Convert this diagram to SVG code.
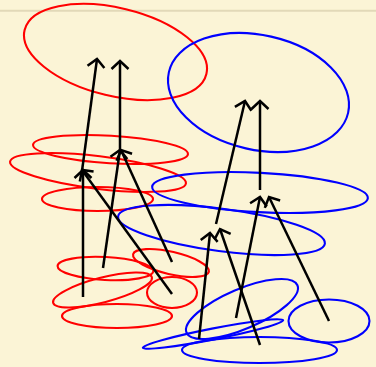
<svg xmlns="http://www.w3.org/2000/svg" width="376" height="367" viewBox="0 0 376 367">
<defs>
<style>
.r{fill:none;stroke:#ff0000;stroke-width:2.1}
.b{fill:none;stroke:#0000ff;stroke-width:2.1}
.c{fill:none;stroke:#000;stroke-width:2.5}
</style>
<marker id="ah" markerUnits="userSpaceOnUse" orient="auto" markerWidth="20" markerHeight="20" refX="0" refY="0" viewBox="-10 -10 20 20" overflow="visible">
<path d="M-8,-8.5 L0,0 L-8,8.5" fill="none" stroke="#000" stroke-width="2.5"/>
</marker>
</defs>
<rect width="376" height="367" fill="#fbf4d6"/>
<line x1="0" y1="10.7" x2="376" y2="10.7" stroke="#e2d9b8" stroke-width="2"/>
<g id="r1"><ellipse class="r" cx="115.5" cy="52" rx="93.5" ry="44" transform="rotate(13.6 115.5 52)"/></g>
<g id="r2"><ellipse class="r" cx="110.5" cy="149.5" rx="77.6" ry="13.7" transform="rotate(3.4 110.5 149.5)"/></g>
<g id="r3"><ellipse class="r" cx="98" cy="172.5" rx="88.6" ry="16.3" transform="rotate(7 98 172.5)"/></g>
<g id="r4"><ellipse class="r" cx="97.5" cy="199" rx="55.5" ry="12"/></g>
<g id="r5"><ellipse class="r" cx="105.5" cy="268.5" rx="48" ry="11.5" transform="rotate(3 105.5 268.5)"/></g>
<g id="r6"><ellipse class="r" cx="102.5" cy="290" rx="51" ry="12.3" transform="rotate(-14.5 102.5 290)"/></g>
<g id="r7"><ellipse class="r" cx="117" cy="316" rx="55" ry="12"/></g>
<g id="r8"><ellipse class="r" cx="172" cy="292.5" rx="25" ry="15.5"/></g>
<g id="r9"><ellipse class="r" cx="171" cy="263" rx="38.9" ry="11.2" transform="rotate(13 171 263)"/></g>
<g id="b1"><ellipse class="b" cx="258.5" cy="92.5" rx="91.9" ry="57.3" transform="rotate(12.8 258.5 92.5)"/></g>
<g id="b2"><ellipse class="b" cx="260" cy="192.5" rx="108" ry="19.7" transform="rotate(3 260 192.5)"/></g>
<g id="b3"><ellipse class="b" cx="221.5" cy="230" rx="104.3" ry="21.2" transform="rotate(7.5 221.5 230)"/></g>
<g id="b4"><ellipse class="b" cx="242" cy="309" rx="60.3" ry="19.9" transform="rotate(-23.2 242 309)"/></g>
<g id="b5"><ellipse class="b" cx="213" cy="334" rx="71.5" ry="5.5" transform="rotate(-11.1 213 334)"/></g>
<g id="b6"><ellipse class="b" cx="259.5" cy="350" rx="77.5" ry="13"/></g>
<g id="b7"><ellipse class="b" cx="329" cy="321" rx="40.5" ry="21.5"/></g>
<g id="connectors">
<path class="c" marker-end="url(#ah)" d="M83,297 L83,170"/>
<path class="c" marker-end="url(#ah)" d="M172,294 L82,170"/>
<path class="c" marker-end="url(#ah)" d="M82,171 L97,59"/>
<path class="c" marker-end="url(#ah)" d="M120,150 L120,61"/>
<path class="c" marker-end="url(#ah)" d="M103,268 L120,150"/>
<path class="c" marker-end="url(#ah)" d="M172,262 L121,150"/>
<path class="c" marker-end="url(#ah)" d="M216,224 L245,101"/>
<path class="c" marker-end="url(#ah)" d="M260,190 L260,101"/>
<path class="c" marker-end="url(#ah)" d="M236,318 L260,197"/>
<path class="c" marker-end="url(#ah)" d="M329,321 L269,197"/>
<path class="c" marker-end="url(#ah)" d="M199,339 L210,233"/>
<path class="c" marker-end="url(#ah)" d="M260,345 L220,229"/>
</g>
</svg>
